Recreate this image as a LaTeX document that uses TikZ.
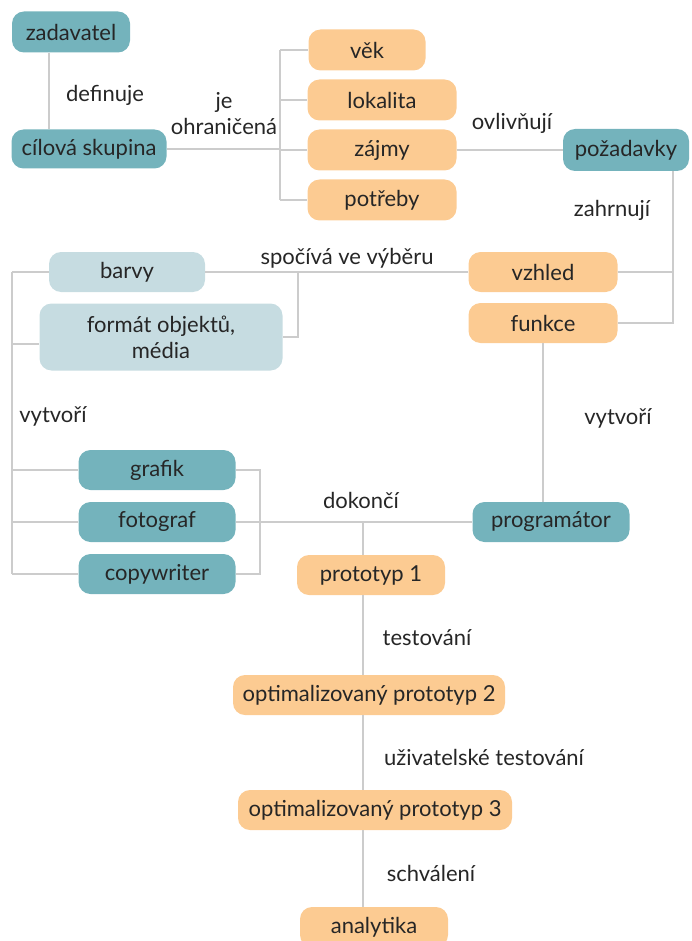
\documentclass[tikz,border=0pt]{standalone}
\usepackage{fontspec}
\setmainfont{Lato}
\definecolor{tealbox}{HTML}{74B3BC}
\definecolor{orangebox}{HTML}{FCCB92}
\definecolor{palebox}{HTML}{C6DCE1}
\definecolor{linegray}{HTML}{CCCCCC}
\definecolor{txt}{HTML}{262626}
\begin{document}
\begin{tikzpicture}[x=1pt,y=-1pt,
  box/.style={rectangle,rounded corners=12pt,inner sep=0pt,align=center,text=txt,font=\fontsize{22}{26}\selectfont},
  tealn/.style={box,fill=tealbox},
  orangen/.style={box,fill=orangebox},
  palen/.style={box,fill=palebox},
  lbl/.style={inner sep=0pt,align=center,text=txt,font=\fontsize{22}{26}\selectfont},
  ln/.style={draw=linegray,line width=2pt}]
\useasboundingbox (0,0) rectangle (691,941);
% nodes
\node[tealn,minimum width=118pt,minimum height=41pt] (zad) at (71,32) {zadavatel};
\node[tealn,minimum width=155pt,minimum height=39pt] (cil) at (89,149) {cílová skupina};
\node[orangen,minimum width=117pt,minimum height=41pt] (vek) at (367,50) {věk};
\node[orangen,minimum width=149pt,minimum height=41pt] (lok) at (382,100) {lokalita};
\node[orangen,minimum width=149pt,minimum height=41pt] (zaj) at (382,150) {zájmy};
\node[orangen,minimum width=149pt,minimum height=41pt] (potr) at (382,200) {potřeby};
\node[tealn,minimum width=126pt,minimum height=42pt] (poz) at (626,150) {požadavky};
\node[orangen,minimum width=149pt,minimum height=40pt] (vzh) at (543,272) {vzhled};
\node[orangen,minimum width=149pt,minimum height=40pt] (fun) at (543,323) {funkce};
\node[palen,minimum width=156pt,minimum height=40pt] (bar) at (127,272) {barvy};
\node[palen,minimum width=243pt,minimum height=67pt] (fmt) at (161,337) {formát objektů,\\média};
\node[tealn,minimum width=157pt,minimum height=40pt] (graf) at (157,470) {grafik};
\node[tealn,minimum width=157pt,minimum height=40pt] (foto) at (157,522) {fotograf};
\node[tealn,minimum width=157pt,minimum height=40pt] (copy) at (157,574) {copywriter};
\node[tealn,minimum width=157pt,minimum height=40pt] (prog) at (551,522) {programátor};
\node[orangen,minimum width=148pt,minimum height=40pt] (p1) at (371,575) {prototyp 1};
\node[orangen,minimum width=272pt,minimum height=40pt] (p2) at (369,695) {optimalizovaný prototyp 2};
\node[orangen,minimum width=274pt,minimum height=40pt] (p3) at (375,810) {optimalizovaný prototyp 3};
\node[orangen,minimum width=148pt,minimum height=40pt] (ana) at (374,927) {analytika};
% labels
\node[lbl] (l1) at (105,95) {definuje};
\node[lbl] (l2) at (224,114) {je\\ohraničená};
\node[lbl] (l3) at (512,123) {ovlivňují};
\node[lbl] (l4) at (612,210) {zahrnují};
\node[lbl] (l5) at (347,258) {spočívá ve výběru};
\node[lbl] (l6) at (53,416) {vytvoří};
\node[lbl] (l7) at (618,418) {vytvoří};
\node[lbl] (l8) at (361,500) {dokončí};
\node[lbl] (l9) at (427,638) {testování};
\node[lbl] (l10) at (484,757) {uživatelské testování};
\node[lbl] (l11) at (431,873) {schválení};
% guide coordinates
\coordinate (x1) at (49,0);
\coordinate (x2) at (280,0);
\coordinate (x3) at (673,0);
\coordinate (x4) at (298,0);
\coordinate (x5) at (12,0);
\coordinate (x6) at (260,0);
\coordinate (x7) at (363,0);
\coordinate (fmtl) at ([yshift=-7pt]fmt.west);
% connectors
\draw[ln] (zad.south -| x1) -- (cil.north -| x1);
\draw[ln] (cil.east) -- (cil.east -| x2);
\draw[ln] (vek.west -| x2) -- (potr.west -| x2);
\foreach \n in {vek,lok,zaj,potr} \draw[ln] (\n.west -| x2) -- (\n.west);
\draw[ln] (zaj.east) -- (poz.west);
\draw[ln] (poz.south -| x3) -- (fun.east -| x3) -- (fun.east);
\draw[ln] (vzh.east) -- (vzh.east -| x3);
\draw[ln] (vzh.west) -- (bar.east);
\draw[ln] (bar.east -| x4) -- (fmt.east -| x4) -- (fmt.east);
\draw[ln] (bar.west -| x5) -- (copy.west -| x5);
\foreach \n in {bar,graf,foto,copy} \draw[ln] (\n.west -| x5) -- (\n.west);
\draw[ln] (fmtl -| x5) -- (fmtl);
\draw[ln] (graf.east) -- (graf.east -| x6) -- (copy.east -| x6) -- (copy.east);
\draw[ln] (foto.east) -- (prog.west);
\draw[ln] (fun.south) -- (fun.south |- prog.north);
\draw[ln] (foto.east -| x7) -- (p1.north -| x7);
\draw[ln] (p1.south -| x7) -- (p2.north -| x7);
\draw[ln] (p2.south -| x7) -- (p3.north -| x7);
\draw[ln] (p3.south -| x7) -- (ana.north -| x7);
\end{tikzpicture}
\end{document}
